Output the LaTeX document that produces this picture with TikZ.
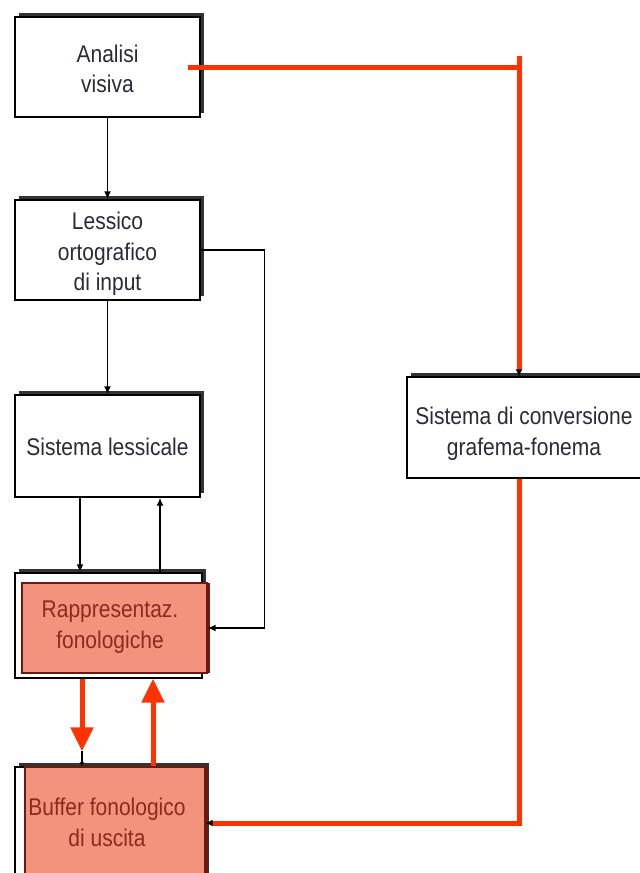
\documentclass[tikz,border=0pt]{standalone}
\usepackage{fontspec}
\setmainfont{Liberation Sans}
\usetikzlibrary{arrows.meta}
\definecolor{salmon}{HTML}{F4937D}
\definecolor{redl}{HTML}{FF3300}
\definecolor{txtc}{HTML}{2A2A3A}
\definecolor{dred}{HTML}{8C2A1E}
\definecolor{bdred}{HTML}{6A1A10}
\newcommand\stxt[1]{\scalebox{1}[1.15]{\begin{tabular}{@{}c@{}}#1\end{tabular}}}
\begin{document}
\begin{tikzpicture}[x=1pt,y=-1pt,
  box/.style={draw=black, line width=1.3pt, fill=white, minimum width=185pt, minimum height=100pt,
    inner sep=0pt,
    preaction={fill=black!80, transform canvas={xshift=4pt,yshift=4pt}}},
  fillbox/.style={draw=bdred, line width=1.3pt, fill=salmon, inner sep=0pt,
    preaction={fill=bdred, transform canvas={xshift=2.5pt}}},
  btxt/.style={align=center, text=txtc, font=\fontsize{21}{26.5}\selectfont, inner sep=0pt},
  ftxt/.style={align=center, text=dred, font=\fontsize{21}{26.5}\selectfont, inner sep=0pt},
  blk/.style={draw=black, line width=1.6pt, -{Latex[length=8pt,width=7pt]}},
  redline/.style={draw=redl, line width=5pt},
  bigtip/.style={-{Triangle[width=22pt,length=24pt]}}
]
\useasboundingbox (0,0) rectangle (640,873);
\fill[white] (0,0) rectangle (640,873);

\coordinate (xl) at (80,0);
\coordinate (xr) at (160,0);
\coordinate (xrl) at (82,0);
\coordinate (xru) at (153,0);
\coordinate (xc) at (519,0);

\node[box] (ana) at (107.5,67) {};
\node[btxt] (anat) at (107.5,71.5) {\stxt{Analisi\\visiva}};
\node[box] (les) at (107.5,250) {};
\node[btxt] (lest) at (107.5,254) {\stxt{Lessico\\ortografico\\di input}};
\node[box, minimum height=102pt] (sl) at (107.5,446) {};
\node[btxt] (slt) at (107.5,449) {\stxt{Sistema lessicale}};
\node[box, minimum width=241pt, minimum height=101pt] (conv) at (527.5,427.5) {};
\node[btxt] (convt) at (524,434) {\stxt{Sistema di conversione\\grafema-fonema}};

\node[box, minimum width=187pt, minimum height=105pt] (rapo) at (108.5,625.5) {};
\node[fillbox, minimum width=185pt, minimum height=90pt] (rap) at (114.5,628) {};
\node[ftxt] (rapt) at (110,627) {\stxt{Rappresentaz.\\fonologiche}};

\node[box, minimum width=190pt, minimum height=112pt] (bufo) at (110,823) {};
\node[fillbox, minimum width=180pt, minimum height=112pt] (buf) at (115,823) {};
\node[ftxt] (buft) at (107,825) {\stxt{Buffer fonologico\\di uscita}};

% black connectors
\draw[blk] (ana.south) -- (les.north);
\draw[blk] (les.south) -- (sl.north);
\draw[blk] (les.east) -- ++(64,0) |- (rap.east);
\draw[blk] (sl.south -| xl) -- (rapo.north -| xl);
\draw[blk] (rapo.north -| xr) -- (sl.south -| xr);

% red connectors
\draw[redline] ([xshift=-13pt]ana.east) -- (ana.east -| xc);
\draw[redline, -{Latex[black,length=7pt,width=7pt]}] ([yshift=11pt]ana.east -| xc) -- (conv.north -| xc);
\draw[redline, -{Latex[black,length=7pt,width=7pt]}] (conv.south -| xc) |- (bufo.east);
\draw[redline, bigtip] (rapo.south -| xrl) -- ([yshift=15pt]bufo.north -| xrl) coordinate (rtip);
\draw[blk, -{Latex[length=4pt,width=5pt]}] (rtip) -- (bufo.north -| xrl);
\draw[redline, bigtip] (bufo.north -| xru) -- (rapo.south -| xru);
\end{tikzpicture}
\end{document}
